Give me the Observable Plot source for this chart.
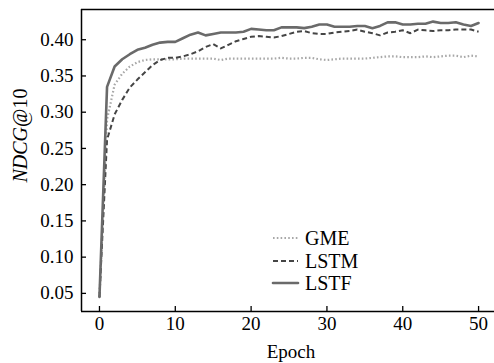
<!DOCTYPE html>
<html>
<head>
<meta charset="utf-8">
<script src="https://cdn.jsdelivr.net/npm/d3@7"></script>
<script src="https://cdn.jsdelivr.net/npm/@observablehq/plot@0.6"></script>
<style>
  html, body { margin: 0; padding: 0; background: #fff; }
  #wrap { position: relative; width: 494px; height: 363px; }
  #legend { position: absolute; left: 0; top: 0; pointer-events: none; }
</style>
</head>
<body>
<div id="wrap"></div>
<script>
const epochs = d3.range(0, 51);
const gme = [0.045,0.290,0.338,0.353,0.363,0.369,0.372,0.373,0.373,0.373,
             0.373,0.374,0.374,0.374,0.374,0.374,0.372,0.374,0.374,0.374,
             0.374,0.374,0.374,0.374,0.375,0.374,0.374,0.375,0.375,0.373,
             0.372,0.373,0.374,0.374,0.374,0.374,0.375,0.376,0.377,0.377,
             0.376,0.376,0.376,0.377,0.376,0.377,0.378,0.378,0.376,0.378,0.377];
const lstm = [0.045,0.262,0.297,0.317,0.334,0.345,0.355,0.365,0.372,0.375,
              0.375,0.377,0.380,0.384,0.390,0.394,0.388,0.393,0.398,0.401,
              0.404,0.405,0.404,0.403,0.405,0.408,0.411,0.412,0.409,0.408,
              0.408,0.410,0.411,0.412,0.414,0.411,0.409,0.406,0.410,0.411,
              0.413,0.409,0.414,0.413,0.412,0.413,0.413,0.414,0.414,0.414,0.411];
const lstf = [0.045,0.335,0.363,0.373,0.380,0.386,0.389,0.393,0.396,0.397,
              0.397,0.402,0.407,0.410,0.406,0.408,0.410,0.410,0.410,0.411,
              0.415,0.414,0.413,0.413,0.417,0.417,0.417,0.416,0.418,0.421,
              0.421,0.418,0.418,0.418,0.419,0.419,0.416,0.419,0.424,0.424,
              0.421,0.421,0.422,0.422,0.425,0.423,0.423,0.424,0.421,0.419,0.423];
const seriesNames = ["GME", "LSTM", "LSTF"];
const xTicks = [0, 10, 20, 30, 40, 50];
const yTicks = [0.05, 0.10, 0.15, 0.20, 0.25, 0.30, 0.35, 0.40];
const xDomain = [-2.37, 52.1];
const yDomain = [0.025, 0.4417];

const styles = {
  GME:  {stroke: "#a8a8a8", strokeWidth: 2.2, dash: "1.6,2.2", cap: "butt"},
  LSTM: {stroke: "#454545", strokeWidth: 2.0, dash: "5,3", cap: "butt"},
  LSTF: {stroke: "#6a6a6a", strokeWidth: 2.6, dash: null, cap: "round"}
};

const seriesValues = {GME: gme, LSTM: lstm, LSTF: lstf};
const rows = seriesNames.flatMap(s => epochs.map((e, i) => ({series: s, epoch: e, value: seriesValues[s][i]})));

const W = 494, H = 363, mL = 81, mR = 0, mT = 9, mB = 52;
const fontFam = "'Liberation Serif', 'DejaVu Serif', serif";

const lineMarks = seriesNames.map(s => Plot.line(rows.filter(r => r.series === s), {
  x: "epoch", y: "value",
  stroke: styles[s].stroke, strokeWidth: styles[s].strokeWidth,
  strokeDasharray: styles[s].dash, strokeLinecap: styles[s].cap, strokeLinejoin: "round"
}));

const chart = Plot.plot({
  width: W, height: H,
  marginLeft: mL, marginRight: mR, marginTop: mT, marginBottom: mB,
  style: {fontFamily: fontFam, fontSize: "19px", color: "#000", background: "#fff"},
  x: {domain: xDomain},
  y: {domain: yDomain},
  marks: [
    Plot.axisX(xTicks, {tickSize: 0, tickPadding: 5, label: null, fontSize: 19}),
    Plot.axisY(yTicks, {tickSize: 0, tickPadding: 8, label: null, fontSize: 19, tickFormat: d3.format(".2f")}),
    Plot.tickX(xTicks, {x: d => d, insetTop: (H - mT - mB) - 5, stroke: "#000", strokeWidth: 1.3}),
    Plot.tickY(yTicks, {y: d => d, insetRight: (W - mL - mR) - 5, stroke: "#000", strokeWidth: 1.3}),
    ...lineMarks,
    Plot.ruleX([xDomain[0]], {stroke: "#000", strokeWidth: 1.5}),
    Plot.ruleY([yDomain[0], yDomain[1]], {stroke: "#000", strokeWidth: 1.5}),
    Plot.text(["Epoch"], {frameAnchor: "bottom", lineAnchor: "top", dy: 33, dx: 3, fontSize: 19}),
    Plot.text(["NDCG@10"], {frameAnchor: "left", rotate: -90, dx: -61, dy: 22, fontSize: 20, lineAnchor: "middle"})
  ]
});

// italic "NDCG", upright "@10"
chart.querySelectorAll("text").forEach(t => {
  if (t.textContent === "NDCG@10") {
    t.textContent = "";
    const ns = "http://www.w3.org/2000/svg";
    const a = document.createElementNS(ns, "tspan");
    a.setAttribute("font-style", "italic");
    a.textContent = "NDCG";
    const b = document.createElementNS(ns, "tspan");
    b.textContent = "@10";
    t.appendChild(a); t.appendChild(b);
  }
});

const wrap = document.getElementById("wrap");
wrap.appendChild(chart);

// legend overlay inside the plot area
const leg = d3.select(wrap).append("svg").attr("id", "legend").attr("width", W).attr("height", H);
const legY = [238, 261, 283];
seriesNames.forEach((s, i) => {
  const g = leg.append("g");
  g.append("line").attr("x1", 273).attr("x2", 298).attr("y1", legY[i]).attr("y2", legY[i])
    .attr("stroke", styles[s].stroke).attr("stroke-width", styles[s].strokeWidth)
    .attr("stroke-dasharray", styles[s].dash).attr("stroke-linecap", styles[s].cap);
  g.append("text").attr("x", 305).attr("y", legY[i]).attr("dy", "0.35em")
    .attr("font-family", fontFam).attr("font-size", 20).attr("fill", "#000").text(s);
});
</script>
</body>
</html>
